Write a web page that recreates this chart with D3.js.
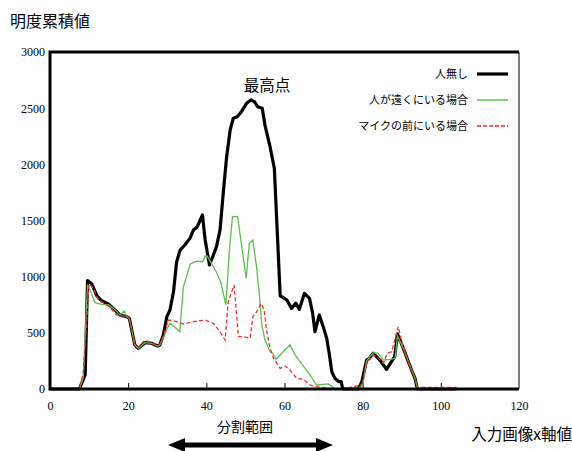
<!DOCTYPE html>
<html>
<head>
<meta charset="utf-8">
<script src="https://cdn.jsdelivr.net/npm/d3@7"></script>
<style>
  html, body { margin: 0; padding: 0; background: #fff; }
  svg { display: block; }
</style>
</head>
<body>
<svg id="chart" width="572" height="451"></svg>
<script>
// 人無し
const noPersonX = [0, 7.5, 9, 9.6, 10.7, 12, 13.2, 14.9, 16.2, 17.9, 19.6, 20.3, 21.7, 22.6, 23.3, 24.3, 26, 27.5, 28.1, 29, 29.9, 30.7, 31.6, 32.4, 33.3, 34.5, 35.8, 36.7, 37.7, 39, 39.7, 40.8, 41.8, 42.6, 43.5, 44.4, 45.2, 46.1, 46.9, 47.9, 49, 50.3, 51.4, 52.3, 53.1, 54.3, 55, 56.3, 57.4, 58.9, 59.3, 60.6, 61.8, 62.9, 63.8, 65.1, 66.4, 67.2, 67.8, 68.9, 69.9, 70.8, 71.5, 72.1, 72.9, 73.9, 74.5, 74.9, 78.9, 79.8, 81, 81.7, 82.7, 84.4, 86.1, 88.2, 88.9, 90.4, 91.7, 92.5, 93.4, 94, 104];
const noPersonY = [0, 0, 125, 965, 935, 828, 786, 757, 718, 659, 644, 629, 392, 362, 383, 412, 407, 383, 392, 481, 644, 703, 866, 1133, 1237, 1282, 1341, 1415, 1445, 1549, 1326, 1104, 1193, 1267, 1415, 1772, 2068, 2306, 2410, 2424, 2469, 2543, 2573, 2558, 2513, 2499, 2350, 2157, 1965, 828, 822, 792, 718, 763, 709, 852, 807, 674, 510, 659, 555, 451, 303, 154, 95, 65, 65, 0, 0, 65, 258, 273, 318, 258, 175, 288, 490, 362, 243, 169, 95, 0, 0];

// 人が遠くにいる場合
const farX = [0, 7.5, 8.5, 9.6, 10.5, 11.5, 13.2, 14.9, 16.2, 17.9, 19, 19.6, 20.3, 21.7, 22.6, 23.3, 24.3, 26, 27.5, 28.1, 29, 29.9, 30.7, 31.6, 33.2, 34.1, 35.9, 37.5, 39.1, 39.7, 40.2, 42.4, 43.7, 45, 45.9, 46.7, 48, 50.2, 51, 51.9, 52.9, 53.6, 54.2, 55, 56.3, 57, 57.8, 58.9, 60.1, 61.4, 62.7, 64.8, 66.5, 68.2, 69.5, 71.2, 72.9, 74.6, 79, 80, 81, 82.7, 84, 85.3, 87.2, 88.3, 88.9, 90.4, 91.7, 92.5, 93.4, 94, 104];
const farY = [0, 0, 100, 930, 860, 768, 754, 750, 718, 659, 694, 644, 629, 392, 362, 383, 412, 407, 383, 392, 460, 530, 585, 560, 510, 905, 1113, 1138, 1133, 1184, 1184, 1052, 950, 748, 1237, 1534, 1534, 985, 1297, 1326, 1074, 822, 570, 436, 332, 318, 265, 303, 347, 392, 303, 205, 125, 36, 40, 45, 6, 0, 10, 40, 250, 323, 318, 258, 264, 273, 470, 362, 243, 169, 95, 10, 10];

// マイクの前にいる場合
const nearMicX = [0, 7.5, 8.5, 10, 11, 12.4, 14.9, 17, 19.8, 20.3, 21.7, 22.6, 24.3, 27.3, 28.1, 29, 30.3, 31.6, 34.1, 36.7, 39.7, 41.8, 43.5, 44.8, 45.6, 46.2, 47.1, 48.2, 49.5, 51.2, 51.9, 52.9, 54, 54.8, 55.4, 56.3, 57.2, 58.9, 60.1, 61.4, 63.1, 64.8, 66.5, 68.2, 71.6, 74.6, 79, 80, 81, 82.7, 84, 85.3, 86.3, 87.4, 89.1, 90, 91.7, 92.5, 93.4, 94, 104];
const nearMicY = [0, 0, 139, 935, 900, 792, 740, 659, 644, 629, 392, 371, 436, 392, 400, 470, 614, 608, 579, 599, 614, 585, 510, 436, 777, 837, 926, 466, 466, 451, 644, 688, 763, 703, 525, 362, 273, 184, 205, 169, 95, 86, 36, 21, 6, 0, 30, 50, 234, 303, 273, 229, 318, 332, 555, 421, 243, 169, 95, 15, 15];

const seriesNames = ["人無し", "人が遠くにいる場合", "マイクの前にいる場合"];
const xTicks = [0, 20, 40, 60, 80, 100, 120];
const yTicks = [0, 500, 1000, 1500, 2000, 2500, 3000];

const svg = d3.select("#chart");
const plotLeft = 50, plotRight = 519, plotTop = 52, plotBottom = 389;

const x = d3.scaleLinear().domain([0, 120]).range([plotLeft, plotRight]);
const y = d3.scaleLinear().domain([0, 3000]).range([plotBottom, plotTop]);

const serif = "'Liberation Serif', 'DejaVu Serif', serif";
const cjk = "'Noto Sans CJK JP', 'Noto Sans', sans-serif";

// Frame: thin right edge
svg.append("line").attr("x1", plotRight).attr("x2", plotRight).attr("y1", plotTop).attr("y2", plotBottom)
  .attr("stroke", "#000").attr("stroke-width", 1);

// x axis ticks (inward) and labels
const xAxis = d3.axisBottom(x).tickValues(xTicks).tickFormat(d3.format("d")).tickSize(-6).tickPadding(12);
const gx = svg.append("g").attr("transform", `translate(0,${plotBottom})`).call(xAxis);
gx.attr("font-family", null);
gx.select(".domain").remove();
gx.selectAll(".tick line").attr("stroke", "#000").attr("stroke-width", 1)
  .filter(d => d === 0 || d === 120).remove();
gx.selectAll(".tick text").style("font-family", serif).style("font-size", "12px").attr("fill", "#000");

// y axis labels
const yAxis = d3.axisLeft(y).tickValues(yTicks).tickFormat(d3.format("d")).tickSize(0).tickPadding(5);
const gy = svg.append("g").attr("transform", `translate(${plotLeft},0)`).call(yAxis);
gy.attr("font-family", null);
gy.select(".domain").remove();
gy.selectAll(".tick text").style("font-family", serif).style("font-size", "12px").attr("fill", "#000");

const line = d3.line().x(d => x(d[0])).y(d => y(d[1]));
const zip = (xs, ys) => xs.map((v, i) => [v, ys[i]]);

svg.append("path").datum(zip(noPersonX, noPersonY)).attr("d", line)
  .attr("fill", "none").attr("stroke", "#000").attr("stroke-width", 3.2)
  .attr("stroke-linejoin", "round");
svg.append("path").datum(zip(farX, farY)).attr("d", line)
  .attr("fill", "none").attr("stroke", "#5cbf4f").attr("stroke-width", 1.3);
svg.append("path").datum(zip(nearMicX, nearMicY)).attr("d", line)
  .attr("fill", "none").attr("stroke", "#f03030").attr("stroke-width", 1.3)
  .attr("stroke-dasharray", "4,2.5");

// thick left, top and bottom axes
svg.append("path")
  .attr("d", `M${plotRight},${plotBottom}H${plotLeft}V${plotTop}H${plotRight}`)
  .attr("fill", "none").attr("stroke", "#000").attr("stroke-width", 3);

// Legend
const legendStyles = [
  { color: "#000", width: 3.2, dash: null },
  { color: "#5cbf4f", width: 1.5, dash: null },
  { color: "#f03030", width: 1.3, dash: "4,2" }
];
const legendY = [74, 100, 126];
seriesNames.forEach((name, i) => {
  svg.append("text").attr("x", 468).attr("y", legendY[i]).attr("dy", "0.35em")
    .attr("text-anchor", "end").attr("font-family", cjk).attr("font-size", 11)
    .attr("fill", "#000").text(name);
  const l = svg.append("line").attr("x1", 477).attr("x2", 508)
    .attr("y1", legendY[i]).attr("y2", legendY[i])
    .attr("stroke", legendStyles[i].color).attr("stroke-width", legendStyles[i].width);
  if (legendStyles[i].dash) l.attr("stroke-dasharray", legendStyles[i].dash);
});

// Titles and annotations
svg.append("text").attr("x", 10).attr("y", 27).attr("font-family", cjk)
  .attr("font-size", 16).attr("fill", "#000").text("明度累積値");
svg.append("text").attr("x", 267).attr("y", 91).attr("text-anchor", "middle")
  .attr("font-family", cjk).attr("font-size", 15.5).attr("fill", "#000").text("最高点");
svg.append("text").attr("x", 572).attr("y", 440).attr("text-anchor", "end")
  .attr("font-family", cjk).attr("font-size", 15.5).attr("fill", "#000").text("入力画像x軸値");
svg.append("text").attr("x", 245).attr("y", 432).attr("text-anchor", "middle")
  .attr("font-family", cjk).attr("font-size", 14).attr("fill", "#000").text("分割範囲");

// Double-headed arrow spanning the split range
const ax0 = 168, ax1 = 333, ay = 445, headLen = 17, headHalf = 7, shaftHalf = 2.5;
svg.append("path")
  .attr("d", `M${ax0},${ay} L${ax0 + headLen},${ay - headHalf} L${ax0 + headLen},${ay - shaftHalf}
              L${ax1 - headLen},${ay - shaftHalf} L${ax1 - headLen},${ay - headHalf} L${ax1},${ay}
              L${ax1 - headLen},${ay + headHalf} L${ax1 - headLen},${ay + shaftHalf}
              L${ax0 + headLen},${ay + shaftHalf} L${ax0 + headLen},${ay + headHalf} Z`)
  .attr("fill", "#000");
</script>
</body>
</html>
